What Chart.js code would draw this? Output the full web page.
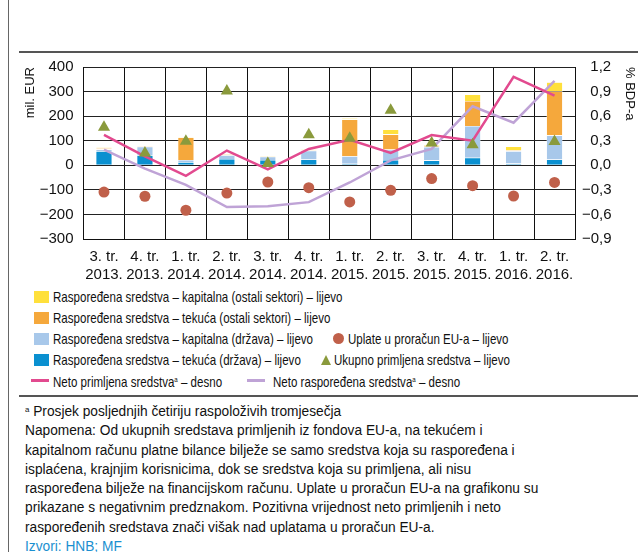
<!DOCTYPE html>
<html>
<head>
<meta charset="utf-8">
<script src="https://cdn.jsdelivr.net/npm/chart.js@4.4.0/dist/chart.umd.min.js"></script>
<style>
  body { margin: 0; width: 638px; height: 552px; background: #fff; position: relative; overflow: hidden;
         font-family: "Liberation Sans", Arial, sans-serif; color: #111; }
  .frame-left { position: absolute; left: 8px; top: 0; width: 1px; height: 552px; background: #666; }
  .rule { position: absolute; left: 19px; right: 0; height: 2px; background: #555; }
  #wrap { position: absolute; left: 10px; top: 56px; width: 628px; height: 231px; }
  .legend { position: absolute; left: 0; top: 287px; width: 638px; font-size: 15px; }
  .row { position: absolute; left: 0; width: 638px; height: 20px; line-height: 20px; white-space: nowrap; }
  .sq { position: absolute; left: 34px; top: 4px; width: 15px; height: 12px; }
  .t { position: absolute; display: inline-block; transform: scaleX(0.77); transform-origin: 0 50%; }
  .t sup { font-size: 8px; vertical-align: 5px; }
  .ln { position: absolute; top: 9px; width: 18px; height: 3px; }
  .dot { position: absolute; width: 11px; height: 11px; border-radius: 50%; top: 4px; }
  .tri { position: absolute; top: 5px; width: 0; height: 0; border-left: 5px solid transparent;
         border-right: 5px solid transparent; border-bottom: 10px solid #8a9a3c; }
  .notes { position: absolute; left: 25px; top: 400px; width: 660px; font-size: 14px; line-height: 19.3px;
           color: #111; white-space: nowrap; transform: scaleX(0.98); transform-origin: 0 0; }
  .notes sup { font-size: 8px; vertical-align: 4px; }
  .src { color: #1b8fd0; }
</style>
</head>
<body>
<div class="frame-left"></div>
<div class="rule" style="top:51px"></div>
<div class="rule" style="top:395px"></div>
<div id="wrap"><canvas id="chart" width="628" height="231"></canvas></div>

<div class="legend">
  <div class="row" style="top:0"><div class="sq" style="background:#ffe03c"></div><span class="t" style="left:53px">Raspoređena sredstva – kapitalna (ostali sektori) – lijevo</span></div>
  <div class="row" style="top:21px"><div class="sq" style="background:#f5a83c"></div><span class="t" style="left:53px">Raspoređena sredstva – tekuća (ostali sektori) – lijevo</span></div>
  <div class="row" style="top:42px"><div class="sq" style="background:#a8c8ea"></div><span class="t" style="left:53px">Raspoređena sredstva – kapitalna (država) – lijevo</span>
    <div class="dot" style="left:333px;background:#c0604a"></div><span class="t" style="left:348px">Uplate u proračun EU-a – lijevo</span></div>
  <div class="row" style="top:63px"><div class="sq" style="background:#0a90d0"></div><span class="t" style="left:53px">Raspoređena sredstva – tekuća (država) – lijevo</span>
    <div class="tri" style="left:321px"></div><span class="t" style="left:334px">Ukupno primljena sredstva – lijevo</span></div>
  <div class="row" style="top:83px"><div class="ln" style="left:31px;background:#e24a8f"></div><span class="t" style="left:53px">Neto primljena sredstva<sup>a</sup> – desno</span>
    <div class="ln" style="left:247px;background:#bfa3d6"></div><span class="t" style="left:273px">Neto raspoređena sredstva<sup>a</sup> – desno</span></div>
</div>

<div class="notes">
  <sup>a</sup> Prosjek posljednjih četiriju raspoloživih tromjesečja<br>
  Napomena: Od ukupnih sredstava primljenih iz fondova EU-a, na tekućem i<br>
  kapitalnom računu platne bilance bilježe se samo sredstva koja su raspoređena i<br>
  isplaćena, krajnjim korisnicima, dok se sredstva koja su primljena, ali nisu<br>
  raspoređena bilježe na financijskom računu. Uplate u proračun EU-a na grafikonu su<br>
  prikazane s negativnim predznakom. Pozitivna vrijednost neto primljenih i neto<br>
  raspoređenih sredstava znači višak nad uplatama u proračun EU-a.<br>
  <span class="src">Izvori: HNB; MF</span>
</div>

<script>
const quarters = [
  ['3. tr.', '2013.'], ['4. tr.', '2013.'], ['1. tr.', '2014.'], ['2. tr.', '2014.'],
  ['3. tr.', '2014.'], ['4. tr.', '2014.'], ['1. tr.', '2015.'], ['2. tr.', '2015.'],
  ['3. tr.', '2015.'], ['4. tr.', '2015.'], ['1. tr.', '2016.'], ['2. tr.', '2016.']
];

// mil. EUR, left axis
const tekucaDrzava = [58, 41, 13, 26, 22, 24, 6, 22, 20, 31, 7, 24];
const kapitalnaDrzava = [7, 35, 9, 15, 13, 36, 31, 42, 55, 129, 51, 98];
const tekucaOstali = [5, 3, 91, 3, 1, 2, 150, 62, 4, 102, 3, 180];
const kapitalnaOstali = [2, 1, 2, 2, 1, 2, 5, 20, 5, 26, 16, 36];
const uplate = [-109, -126, -183, -113, -68, -91, -149, -102, -54, -83, -125, -70];
const ukupnoPrimljena = [155, 50, 98, 302, 7, 124, 110, 224, 91, 84, null, 97];

// % BDP-a, right axis
const netoPrimljena = [0.37, 0.11, -0.13, 0.18, -0.05, 0.20, 0.31, 0.15, 0.37, 0.30, 1.08, 0.85];
const netoRasporedena = [0.19, -0.04, -0.24, -0.51, -0.50, -0.45, -0.21, 0.06, 0.20, 0.72, 0.52, 1.03];

const leftTicks = { min: -300, max: 400, step: 100 };
const rightTicks = { min: -0.9, max: 1.2, step: 0.3 };

const tickFont = { family: '"Liberation Sans", Arial, sans-serif', size: 15 };
const minus = (s) => s.replace('-', '\u2212');

const barBase = { type: 'bar', yAxisID: 'y', stack: 'r', order: 5,
  borderColor: 'rgba(255,255,255,0.7)', borderWidth: 0.6, barPercentage: 0.4, categoryPercentage: 1 };

new Chart(document.getElementById('chart'), {
  data: {
    labels: quarters,
    datasets: [
      { ...barBase, label: 'tekuća (država)', data: tekucaDrzava, backgroundColor: '#0a90d0' },
      { ...barBase, label: 'kapitalna (država)', data: kapitalnaDrzava, backgroundColor: '#a8c8ea' },
      { ...barBase, label: 'tekuća (ostali sektori)', data: tekucaOstali, backgroundColor: '#f5a83c' },
      { ...barBase, label: 'kapitalna (ostali sektori)', data: kapitalnaOstali, backgroundColor: '#ffe03c' },
      { type: 'line', label: 'Neto raspoređena', data: netoRasporedena, yAxisID: 'y1', order: 3,
        borderColor: '#bfa3d6', borderWidth: 2.5, pointRadius: 0, tension: 0 },
      { type: 'line', label: 'Neto primljena', data: netoPrimljena, yAxisID: 'y1', order: 2,
        borderColor: '#e24a8f', borderWidth: 2.5, pointRadius: 0, tension: 0 },
      { type: 'line', label: 'Ukupno primljena', data: ukupnoPrimljena, yAxisID: 'y', order: 1,
        showLine: false, pointStyle: 'triangle', pointRadius: 7, pointBackgroundColor: '#8a9a3c',
        pointBorderColor: '#8a9a3c', borderWidth: 0 },
      { type: 'line', label: 'Uplate', data: uplate, yAxisID: 'y', order: 0,
        showLine: false, pointStyle: 'circle', pointRadius: 5.5, pointBackgroundColor: '#c0604a',
        pointBorderColor: '#c0604a', borderWidth: 0 }
    ]
  },
  options: {
    responsive: false,
    animation: false,
    devicePixelRatio: 1,
    layout: { padding: { top: 11, right: 0, bottom: 0, left: 0 } },
    plugins: { legend: { display: false }, tooltip: { enabled: false } },
    scales: {
      x: {
        grid: { color: '#111', lineWidth: 1, drawTicks: false, offset: true },
        border: { color: '#111' },
        ticks: { color: '#111', font: tickFont, padding: 9, maxRotation: 0, autoSkip: false },
        afterFit: (s) => { s.height = 48; }
      },
      y: {
        position: 'left',
        min: leftTicks.min, max: leftTicks.max,
        // invisible tick marks push the labels away without adding top padding
        grid: { color: '#222', lineWidth: 1, drawTicks: true, tickLength: 10, tickColor: 'rgba(0,0,0,0)' },
        border: { color: '#111' },
        ticks: { stepSize: leftTicks.step, color: '#111', font: tickFont, padding: 0,
          callback: (v) => minus(String(v)) },
        title: { display: true, text: 'mil. EUR', align: 'end', color: '#111', font: { ...tickFont, size: 13 },
          padding: { top: 13, bottom: 0 } },
        afterFit: (s) => { s.width = 73.5; }
      },
      y1: {
        position: 'right',
        min: rightTicks.min, max: rightTicks.max,
        grid: { drawOnChartArea: false, drawTicks: true, tickLength: 7, tickColor: 'rgba(0,0,0,0)' },
        border: { color: '#111' },
        ticks: { stepSize: rightTicks.step, color: '#111', font: tickFont, padding: 0,
          // two spaces stand in for the minus sign so the labels line up on the right
          callback: (v) => (v < 0 ? '' : '  ') + minus(v.toFixed(1).replace('.', ',')) },
        title: { display: true, text: '% BDP-a', align: 'end', color: '#111', font: { ...tickFont, size: 13 },
          padding: { top: 1, bottom: 0 } },
        afterFit: (s) => { s.width = 63; }
      }
    }
  }
});
</script>
</body>
</html>
